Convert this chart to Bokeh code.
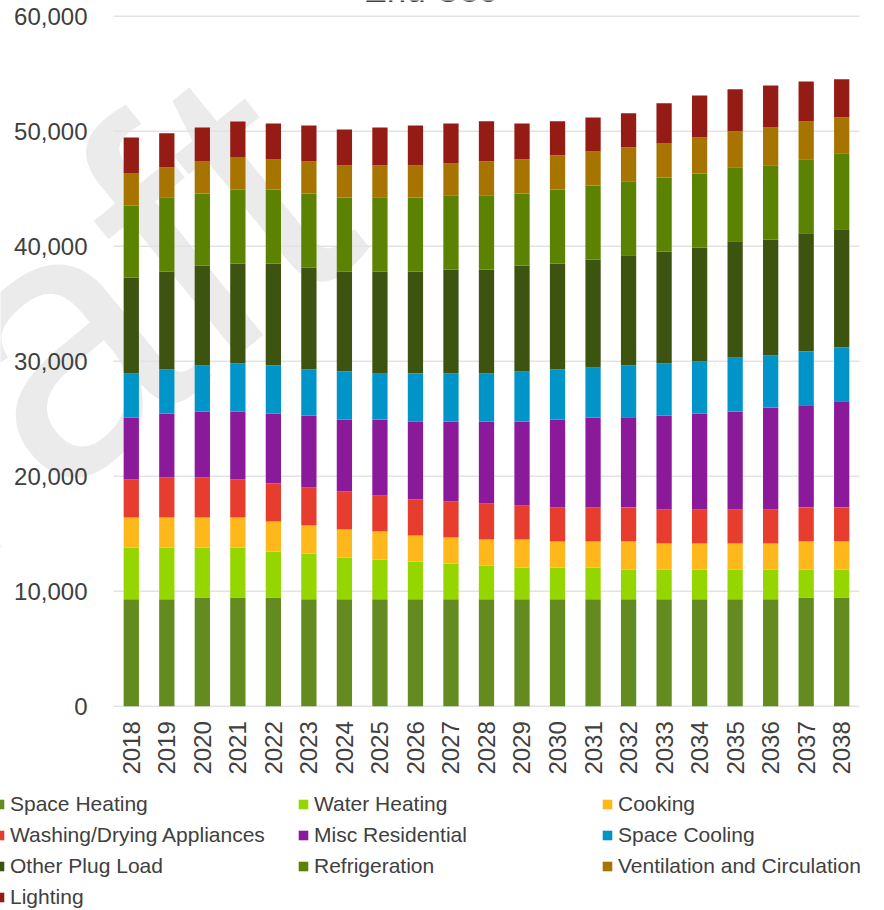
import math
from bokeh.plotting import figure
from bokeh.models import (ColumnDataSource, Range1d, NumeralTickFormatter,
                          FixedTicker, Legend, LegendItem, Label)
from bokeh.embed import file_html
from bokeh.resources import INLINE

years = [2018, 2019, 2020, 2021, 2022, 2023, 2024, 2025, 2026, 2027,
         2028, 2029, 2030, 2031, 2032, 2033, 2034, 2035, 2036, 2037, 2038]

space_heating = [9300, 9300, 9450, 9450, 9450, 9300, 9300, 9300, 9300, 9300,
                 9300, 9300, 9300, 9300, 9300, 9300, 9300, 9300, 9300, 9450, 9450]
water_heating = [4500, 4500, 4350, 4350, 4000, 3980, 3630, 3460, 3280, 3110,
                 2940, 2760, 2760, 2760, 2590, 2590, 2590, 2590, 2590, 2440, 2440]
cooking = [2610, 2610, 2610, 2610, 2610, 2440, 2440, 2440, 2260, 2260,
           2260, 2440, 2260, 2260, 2440, 2260, 2260, 2260, 2260, 2440, 2440]
washing = [3300, 3480, 3480, 3300, 3300, 3300, 3300, 3130, 3130, 3130,
           3130, 2960, 2960, 2960, 2960, 2960, 2960, 2960, 2960, 2960, 2960]
misc_residential = [5390, 5570, 5740, 5910, 6090, 6260, 6260, 6610, 6780, 6960,
                    7130, 7300, 7650, 7830, 7830, 8170, 8350, 8520, 8870, 8870, 9220]
space_cooling = [3830, 3830, 4000, 4170, 4170, 4000, 4170, 4000, 4170, 4170,
                 4170, 4350, 4350, 4350, 4520, 4520, 4520, 4700, 4520, 4700, 4700]
other_plug_load = [8350, 8520, 8700, 8700, 8870, 8870, 8700, 8870, 8870, 9050,
                   9050, 9220, 9220, 9390, 9570, 9740, 9910, 10090, 10090, 10260, 10260]
refrigeration = [6260, 6440, 6260, 6440, 6440, 6440, 6440, 6440, 6440, 6440,
                 6440, 6260, 6440, 6430, 6440, 6440, 6440, 6440, 6440, 6430, 6610]
ventilation = [2780, 2610, 2780, 2780, 2610, 2780, 2780, 2780, 2780, 2780,
               2960, 2960, 2960, 2960, 2960, 2960, 3130, 3130, 3300, 3300, 3130]
lighting = [3130, 2960, 2960, 3130, 3130, 3130, 3130, 3300, 3480, 3480,
            3480, 3130, 2960, 2960, 2960, 3480, 3650, 3650, 3650, 3480, 3300]

series_keys = ["space_heating", "water_heating", "cooking", "washing", "misc_residential",
               "space_cooling", "other_plug_load", "refrigeration", "ventilation", "lighting"]
series_labels = ["Space Heating", "Water Heating", "Cooking", "Washing/Drying Appliances",
                 "Misc Residential", "Space Cooling", "Other Plug Load", "Refrigeration",
                 "Ventilation and Circulation", "Lighting"]
series_colors = ["#648b1f", "#96d600", "#ffb81c", "#e63d2e", "#8b1a9b",
                 "#0094c9", "#3d5410", "#5b8200", "#a87400", "#951c14"]
y_ticks = [0, 10000, 20000, 30000, 40000, 50000, 60000]

source = ColumnDataSource(data=dict(
    year=years,
    space_heating=space_heating, water_heating=water_heating, cooking=cooking,
    washing=washing, misc_residential=misc_residential, space_cooling=space_cooling,
    other_plug_load=other_plug_load, refrigeration=refrigeration,
    ventilation=ventilation, lighting=lighting,
))

# The frame fills the whole canvas; the axes are pinned inside it so that the
# legend, the cut-off title and the watermark are not clipped away.
p = figure(width=884, height=910,
           x_range=Range1d(2014.318, 2039.205), y_range=Range1d(-17765, 61365),
           output_backend="svg", toolbar_location=None,
           min_border_left=0, min_border_right=0, min_border_top=0, min_border_bottom=0,
           background_fill_color="white", border_fill_color="white")
p.outline_line_color = None
p.xgrid.visible = False
p.ygrid.visible = False

# watermark
wm = Label(x=-332, y=259, x_units="screen", y_units="screen", text="Draft",
           angle=39, angle_units="deg", text_font="Liberation Sans",
           text_font_size="370px", text_color="#ebebeb", text_baseline="alphabetic",
           level="image")
p.add_layout(wm)

# horizontal gridlines across the category span
p.segment(x0=years[0] - 0.5, x1=years[-1] + 0.5, y0=y_ticks, y1=y_ticks,
          line_color="#e3e3e3", line_width=1.6, level="underlay")

renderers = p.vbar_stack(series_keys, x="year", width=0.43, fill_color=series_colors,
                         line_color=None, source=source)

for ax in (p.xaxis[0], p.yaxis[0]):
    ax.axis_line_color = None
    ax.major_tick_line_color = None
    ax.minor_tick_line_color = None
    ax.major_label_text_font = "Liberation Sans"
    ax.major_label_text_font_size = "24px"
    ax.major_label_text_color = "#404040"

p.yaxis.ticker = FixedTicker(ticks=y_ticks)
p.yaxis.formatter = NumeralTickFormatter(format="0,0")
p.yaxis.major_label_standoff = 20
p.yaxis.fixed_location = years[0] - 0.5

p.xaxis.ticker = FixedTicker(ticks=years)
p.xaxis.major_label_orientation = math.pi / 2
p.xaxis.major_label_standoff = 9
p.xaxis.fixed_location = 0

items = [LegendItem(label=lab, renderers=[r]) for lab, r in zip(series_labels, renderers)]
legend = Legend(items=items, location=(-7, 0), orientation="horizontal", ncols=3,
                glyph_width=12, glyph_height=12, label_standoff=5, label_width=282,
                label_height=26, spacing=5, padding=0, margin=0,
                border_line_color=None, background_fill_alpha=0,
                label_text_font="Liberation Sans", label_text_font_size="21px",
                label_text_color="#404040")
p.add_layout(legend, "center")

title = Label(x=430, y=921, x_units="screen", y_units="screen", text="End Use",
              text_align="center", text_baseline="alphabetic", text_font="Liberation Sans",
              text_font_size="35px", text_color="#404040")
p.add_layout(title)

open("out.html", "w").write(file_html(p, INLINE))
